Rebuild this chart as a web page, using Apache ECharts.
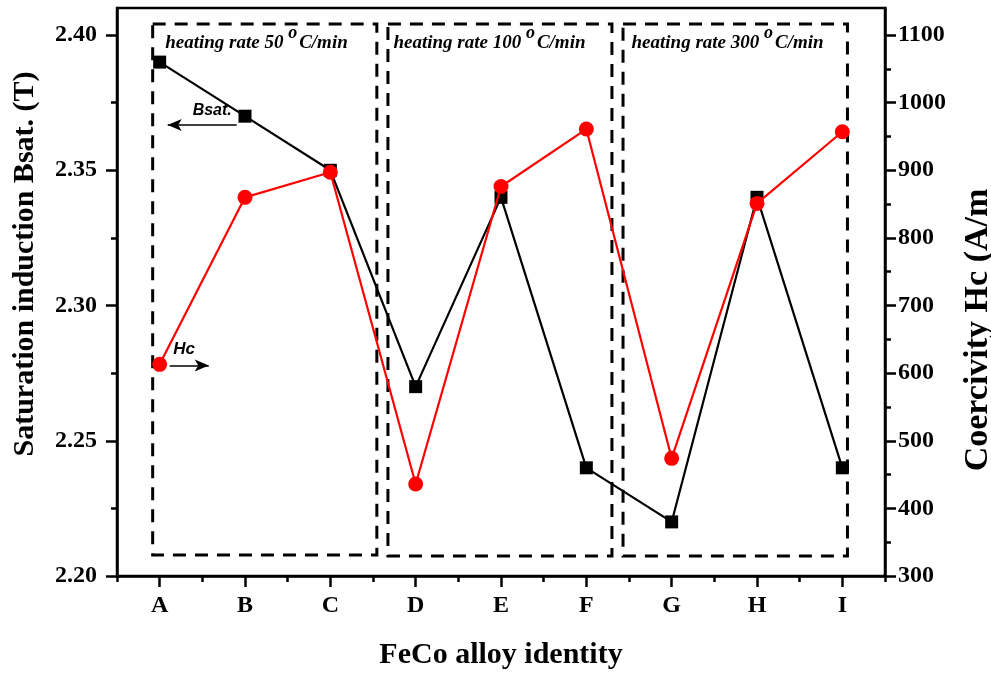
<!DOCTYPE html>
<html>
<head>
<meta charset="utf-8">
<script src="https://cdn.jsdelivr.net/npm/echarts@6/dist/echarts.min.js"></script>
<style>html,body{margin:0;padding:0;background:#fff}#c{width:991px;height:673px}</style>
</head>
<body>
<div id="c"></div>
<script>
// ---- data ----
var categories = ['A', 'B', 'C', 'D', 'E', 'F', 'G', 'H', 'I'];
var bsat = [2.39, 2.37, 2.35, 2.27, 2.34, 2.24, 2.22, 2.34, 2.24];
var hc = [613, 860, 897, 436, 876, 961, 474, 851, 957];
var leftTicks = [2.20, 2.25, 2.30, 2.35, 2.40];
var leftMinor = [2.225, 2.275, 2.325, 2.375];
var rightTicks = [300, 400, 500, 600, 700, 800, 900, 1000, 1100];
var rightMinor = [350, 450, 550, 650, 750, 850, 950, 1050];
var boxLabels = ['50', '100', '300'];
// box extents in category-index units (x) and Bsat units (y)
var boxX = [[-0.082, 2.545], [2.675, 5.30], [5.43, 8.06]];
var boxY = [[2.2078, 2.4041], [2.2074, 2.4041], [2.2074, 2.4041]];

var catIndex = categories.map(function (c, i) { return i; });
var serif = '"Liberation Serif", "Times New Roman", serif';
var sans = '"Liberation Sans", Arial, sans-serif';
var chart = echarts.init(document.getElementById('c'), null, {renderer: 'canvas'});

var tickLabel = {fontFamily: serif, fontWeight: 'bold', fontSize: 24, color: '#000'};
var axisLineStyle = {color: '#000', width: 2.5};
var tickStyle = {color: '#000', width: 2.5};
var labelOffsets = [[14, 2], [7, 2], [10, 2]];

var boxData = boxX.map(function (bx, i) {
  return [
    {xAxis: bx[0], yAxis: boxY[i][1],
     label: {show: true, position: 'insideTopLeft', distance: 0, offset: labelOffsets[i],
       formatter: '{t|heating rate ' + boxLabels[i] + ' }{s|o}{t|C/min}',
       rich: {
         t: {fontFamily: serif, fontWeight: 'bold', fontStyle: 'italic', fontSize: 19, color: '#000', verticalAlign: 'bottom', lineHeight: 28},
         s: {fontFamily: serif, fontWeight: 'bold', fontStyle: 'italic', fontSize: 18, color: '#000', verticalAlign: 'top', lineHeight: 26, padding: [0, 2, 0, 0]}
       }}},
    {xAxis: bx[1], yAxis: boxY[i][0]}
  ];
});

var option = {
  backgroundColor: '#fff',
  animation: false,
  grid: {left: 117, right: 106, top: 8, bottom: 97, show: true, borderColor: '#000', borderWidth: 2.5, backgroundColor: 'transparent'},
  xAxis: [
    {type: 'category', data: categories, boundaryGap: true, position: 'bottom',
     axisLine: {onZero: false, lineStyle: axisLineStyle},
     axisTick: {show: true, length: 6, lineStyle: tickStyle},
     axisLabel: Object.assign({margin: 18}, tickLabel),
     splitLine: {show: false}},
    {type: 'value', min: -0.5, max: 8.5, position: 'bottom',
     axisLine: {show: false, onZero: false},
     axisTick: {show: true, length: 11, customValues: catIndex, lineStyle: tickStyle},
     axisLabel: {show: false}, splitLine: {show: false}}
  ],
  yAxis: [
    {type: 'value', position: 'left', min: 2.20, max: 2.41, interval: 0.05,
     axisLine: {show: true, onZero: false, lineStyle: axisLineStyle},
     axisTick: {show: true, length: 11, customValues: leftTicks, lineStyle: tickStyle},
     axisLabel: Object.assign({margin: 20, customValues: leftTicks, formatter: function (v) { return v.toFixed(2); }}, tickLabel),
     splitLine: {show: false}},
    {type: 'value', position: 'right', min: 300, max: 1140, interval: 100,
     axisLine: {show: true, onZero: false, lineStyle: axisLineStyle},
     axisTick: {show: true, length: 11, customValues: rightTicks, lineStyle: tickStyle},
     axisLabel: Object.assign({margin: 13, customValues: rightTicks, formatter: function (v) { return String(Math.round(v)); }}, tickLabel),
     splitLine: {show: false}},
    {type: 'value', position: 'left', min: 2.20, max: 2.41,
     axisLine: {show: false, onZero: false},
     axisTick: {show: true, length: 6, customValues: leftMinor, lineStyle: tickStyle},
     axisLabel: {show: false}, splitLine: {show: false}},
    {type: 'value', position: 'right', min: 300, max: 1140,
     axisLine: {show: false, onZero: false},
     axisTick: {show: true, length: 6, customValues: rightMinor, lineStyle: tickStyle},
     axisLabel: {show: false}, splitLine: {show: false}}
  ],
  graphic: [
    {type: 'text', x: 25, y: 264, rotation: Math.PI / 2,
     style: {text: 'Saturation induction Bsat. (T)', font: 'bold 30px ' + serif, fill: '#000', textAlign: 'center', textVerticalAlign: 'middle'}},
    {type: 'text', x: 978, y: 330, rotation: Math.PI / 2,
     style: {text: 'Coercivity Hc (A/m', font: 'bold 34px ' + serif, fill: '#000', textAlign: 'center', textVerticalAlign: 'middle'}},
    {type: 'text', x: 501, y: 655,
     style: {text: 'FeCo alloy identity', font: 'bold 30px ' + serif, fill: '#000', textAlign: 'center', textVerticalAlign: 'middle'}}
  ],
  series: [
    {name: 'annot', type: 'line', xAxisIndex: 1, yAxisIndex: 0, data: [], silent: true,
     markArea: {silent: true,
       itemStyle: {color: 'rgba(0,0,0,0)', borderColor: '#000', borderWidth: 3, borderType: [13, 9]},
       data: boxData},
     markLine: {silent: true, symbolSize: [10, 12],
       lineStyle: {color: '#000', width: 1.5, type: 'solid'},
       data: [
         [{coord: [0.094, 2.3667], symbol: 'arrow', symbolSize: [9, 14],
           label: {show: true, position: 'middle', formatter: 'Bsat.', offset: [10, -2],
             fontFamily: sans, fontWeight: 'bold', fontStyle: 'italic', fontSize: 16, color: '#000'}},
          {coord: [0.903, 2.3667], symbol: 'none'}],
         [{coord: [0.117, 2.2778], symbol: 'none',
           label: {show: true, position: 'middle', formatter: 'Hc', offset: [-5, -3],
             fontFamily: sans, fontWeight: 'bold', fontStyle: 'italic', fontSize: 17, color: '#000'}},
          {coord: [0.575, 2.2778], symbol: 'arrow', symbolSize: [9, 14]}]
       ]}},
    {name: 'Bsat', type: 'line', xAxisIndex: 0, yAxisIndex: 0, data: bsat,
     symbol: 'rect', symbolSize: 13, showSymbol: true,
     lineStyle: {color: '#000', width: 2.2}, itemStyle: {color: '#000'}, z: 3},
    {name: 'Hc', type: 'line', xAxisIndex: 0, yAxisIndex: 1, data: hc,
     symbol: 'circle', symbolSize: 15, showSymbol: true,
     lineStyle: {color: '#ff0000', width: 2.2}, itemStyle: {color: '#ff0000'}, z: 4}
  ]
};
chart.setOption(option);
</script>
</body>
</html>
